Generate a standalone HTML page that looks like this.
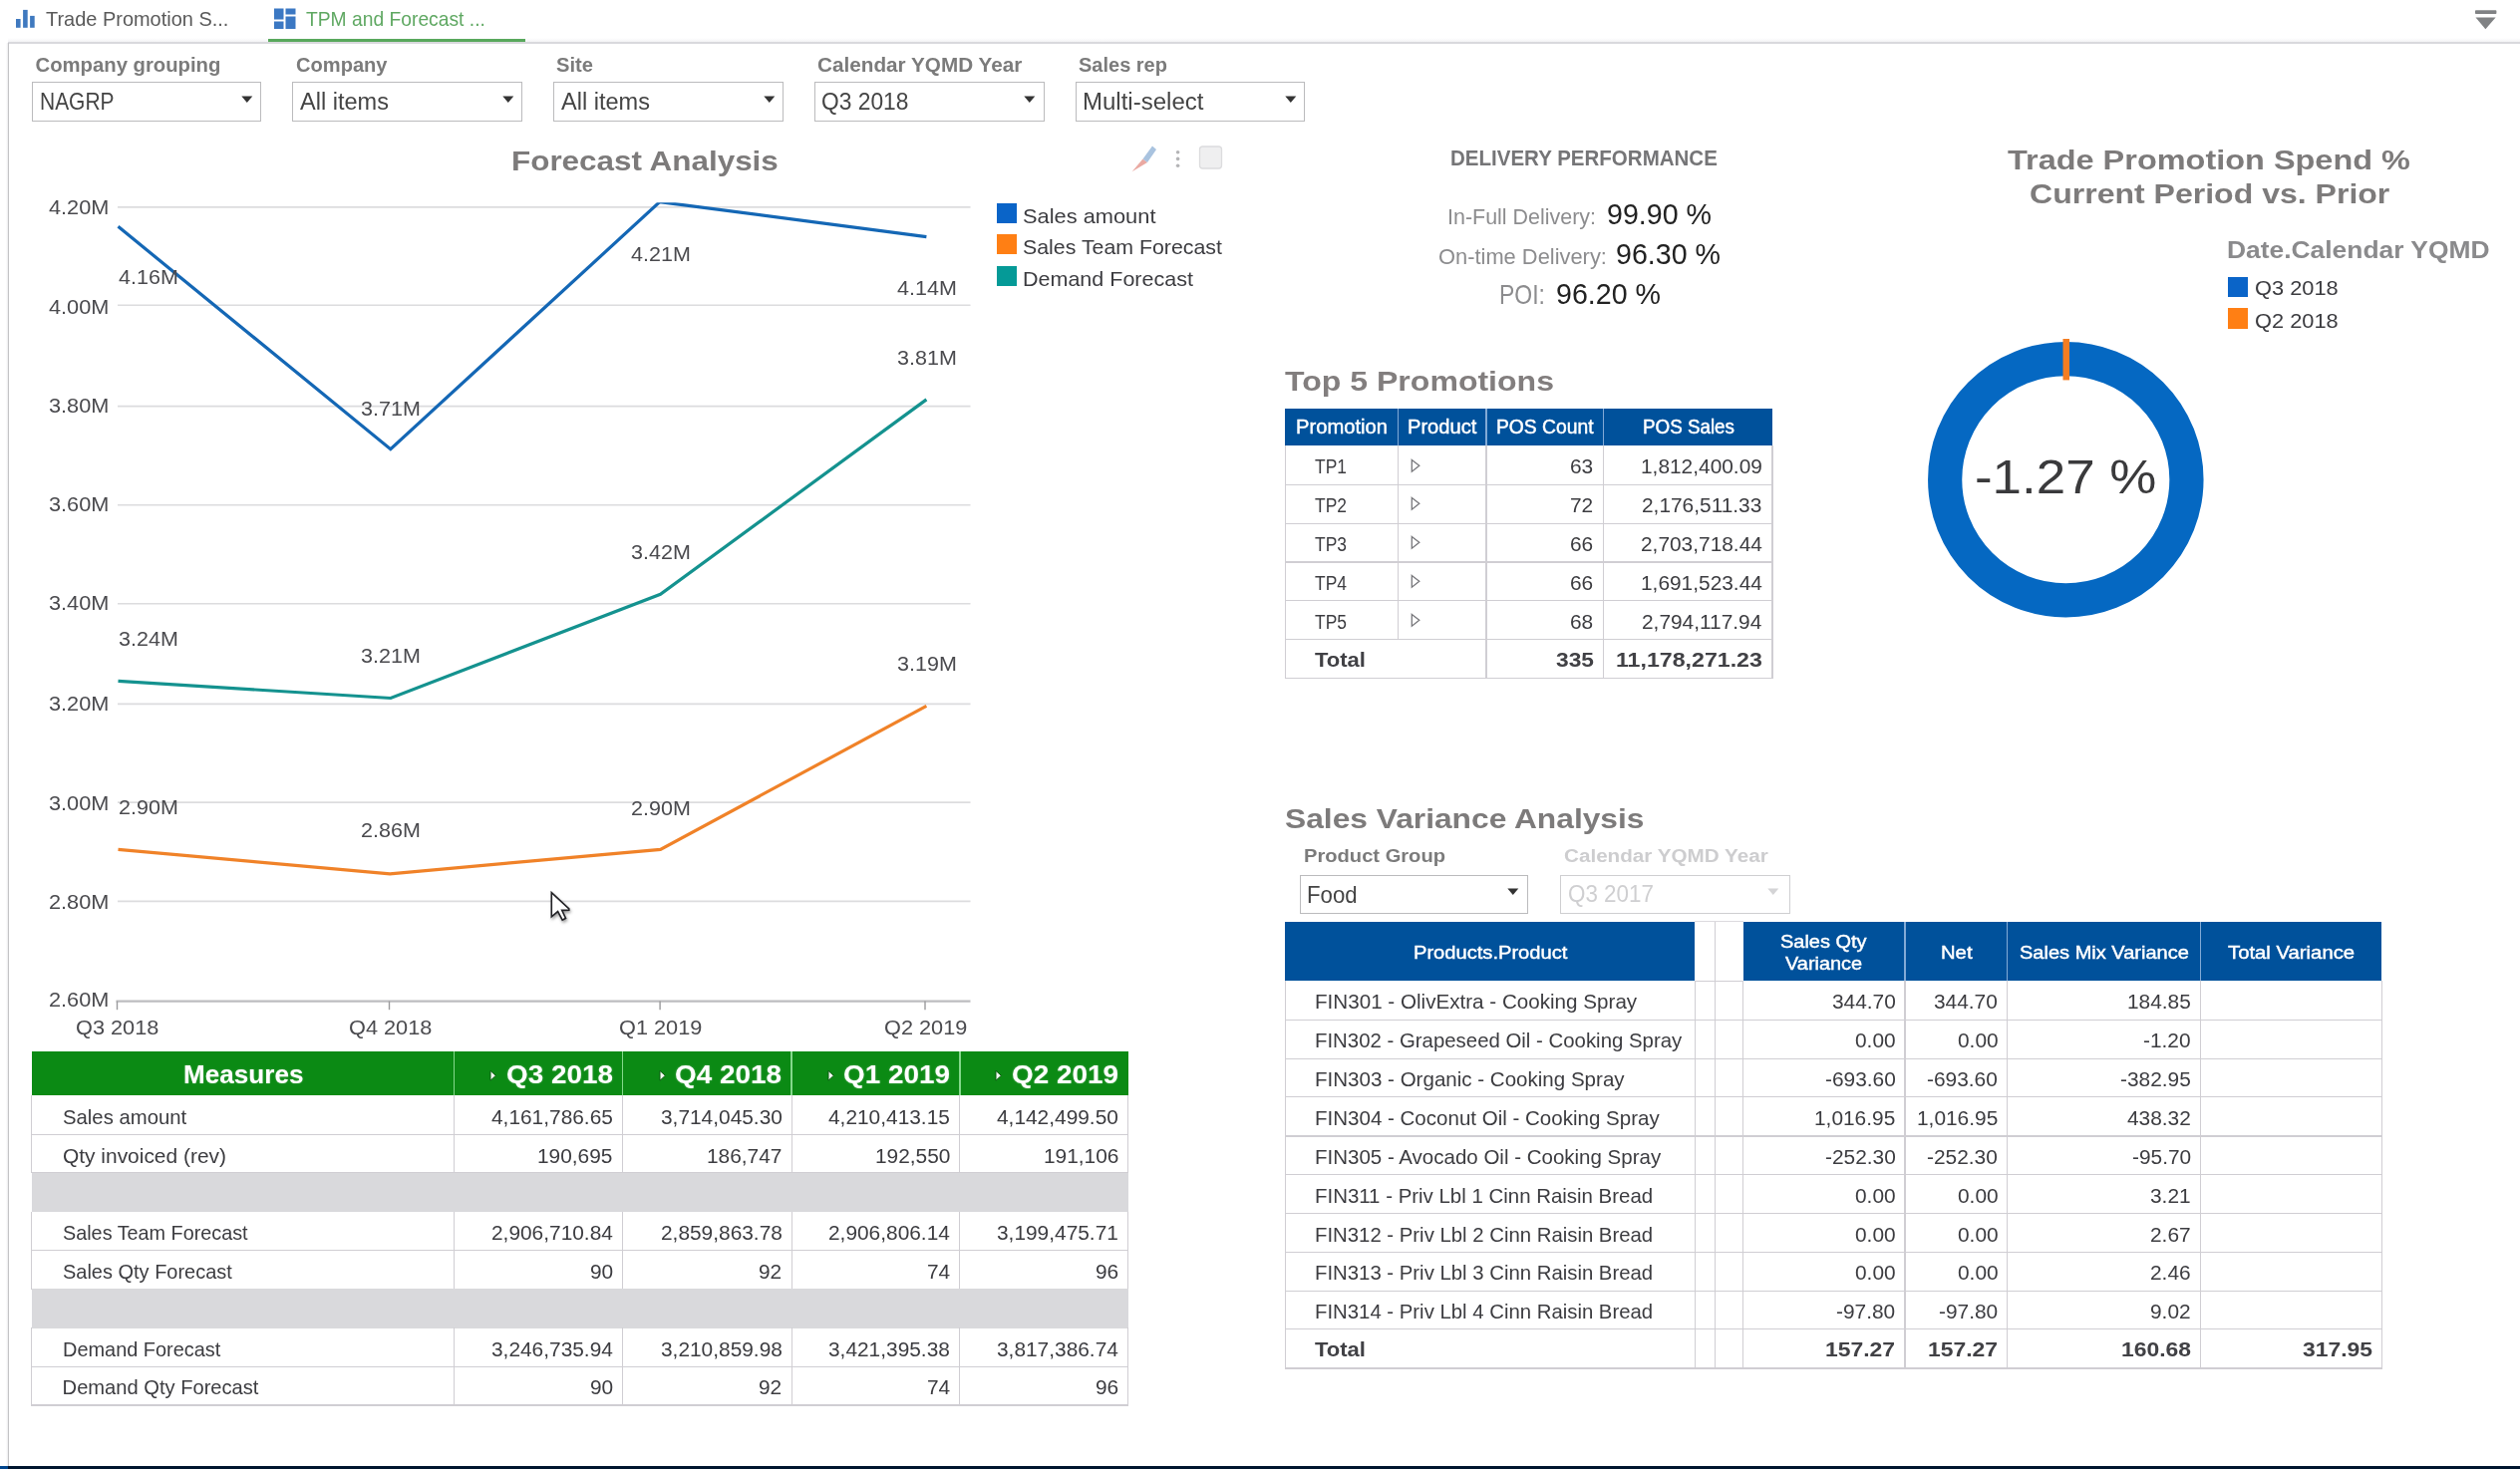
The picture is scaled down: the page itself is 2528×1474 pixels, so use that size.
<!DOCTYPE html>
<html lang="en"><head><meta charset="utf-8"><title>TPM and Forecast</title><style>
html,body{margin:0;padding:0;background:#fff;}
body{width:2528px;height:1474px;position:relative;overflow:hidden;font-family:"Liberation Sans",sans-serif;filter:blur(0.5px);}
.t{position:absolute;white-space:nowrap;line-height:1;transform-origin:0 0;}
.b{position:absolute;display:block;}
</style></head>
<body>
<div id="tabbar">
<div class="b" style="left:7.60px;top:41.60px;width:2521.00px;height:2.10px;background:#d9d9dd"></div>
<div class="b" style="left:7.60px;top:38.40px;width:2521.00px;height:3.20px;background:linear-gradient(#fff,#f3f3f5)"></div>
<svg class="b" style="left:14.5px;top:8px" width="24" height="24" viewBox="0 0 24 24"><g fill="#3f79bf"><rect x="1" y="11" width="4.6" height="8.8"/><rect x="8.1" y="1.9" width="4.6" height="17.9"/><rect x="15.1" y="7.9" width="4.6" height="11.9"/></g></svg>
<span class="t" style="left:45.50px;top:7.64px;font-size:21.01px;color:#5a5a5a;transform:scaleX(0.9502);">Trade Promotion S...</span>
<svg class="b" style="left:274px;top:8px" width="24" height="22" viewBox="0 0 24 22"><g fill="#3b78c3"><rect x="1" y="0.5" width="9.5" height="11"/><rect x="12.5" y="0.5" width="10" height="6"/><rect x="1" y="13.5" width="9.5" height="7.5"/><rect x="12.5" y="8.5" width="10" height="12.5"/></g></svg>
<span class="t" style="left:307.00px;top:7.64px;font-size:21.01px;color:#5fa862;transform:scaleX(0.9173);">TPM and Forecast ...</span>
<div class="b" style="left:269.00px;top:39.00px;width:257.50px;height:3.20px;background:#58a85c"></div>
<svg class="b" style="left:2480px;top:8px" width="28" height="24" viewBox="0 0 28 24"><g fill="#808284"><rect x="3" y="2.2" width="21.4" height="3.8" rx="0.8"/><path d="M3.5 9.5 L23.6 9.5 L13.4 21.2 Z"/></g></svg>
</div>
<div class="b" style="left:7.60px;top:43.00px;width:1.40px;height:1428.00px;background:#c4c4c6"></div>
<div class="b" style="left:5.50px;top:43.00px;width:2.10px;height:1428.00px;background:linear-gradient(90deg,#fff,#ececee)"></div>
<div id="filters">
<span class="t" style="left:35.50px;top:54.95px;font-size:20.29px;color:#7b7b7b;font-weight:bold;">Company grouping</span>
<div class="b" style="left:31.50px;top:81.80px;width:230.50px;height:40.40px;border:1.3px solid #bbbbbd;box-sizing:border-box;background:#fff"></div>
<span class="t" style="left:39.50px;top:90.13px;font-size:24.20px;color:#444;transform:scaleX(0.8659);">NAGRP</span>
<svg class="b" style="left:241.80px;top:95.6px" width="12" height="8" viewBox="0 0 12 8"><path d="M0.3 0.5 L11.3 0.5 L5.8 7 Z" fill="#333"/></svg>
<span class="t" style="left:297.30px;top:54.95px;font-size:20.29px;color:#7b7b7b;font-weight:bold;transform:scaleX(0.9906);">Company</span>
<div class="b" style="left:293.35px;top:81.80px;width:230.50px;height:40.40px;border:1.3px solid #bbbbbd;box-sizing:border-box;background:#fff"></div>
<span class="t" style="left:301.10px;top:90.13px;font-size:24.20px;color:#444;transform:scaleX(0.9735);">All items</span>
<svg class="b" style="left:503.65px;top:95.6px" width="12" height="8" viewBox="0 0 12 8"><path d="M0.3 0.5 L11.3 0.5 L5.8 7 Z" fill="#333"/></svg>
<span class="t" style="left:558.40px;top:54.95px;font-size:20.29px;color:#7b7b7b;font-weight:bold;transform:scaleX(0.9938);">Site</span>
<div class="b" style="left:555.20px;top:81.80px;width:230.50px;height:40.40px;border:1.3px solid #bbbbbd;box-sizing:border-box;background:#fff"></div>
<span class="t" style="left:562.60px;top:90.13px;font-size:24.20px;color:#444;transform:scaleX(0.9735);">All items</span>
<svg class="b" style="left:765.50px;top:95.6px" width="12" height="8" viewBox="0 0 12 8"><path d="M0.3 0.5 L11.3 0.5 L5.8 7 Z" fill="#333"/></svg>
<span class="t" style="left:820.30px;top:54.95px;font-size:20.29px;color:#7b7b7b;font-weight:bold;transform:scaleX(1.0213);">Calendar YQMD Year</span>
<div class="b" style="left:817.05px;top:81.80px;width:230.50px;height:40.40px;border:1.3px solid #bbbbbd;box-sizing:border-box;background:#fff"></div>
<span class="t" style="left:824.00px;top:90.13px;font-size:24.20px;color:#444;transform:scaleX(0.9421);">Q3 2018</span>
<svg class="b" style="left:1027.35px;top:95.6px" width="12" height="8" viewBox="0 0 12 8"><path d="M0.3 0.5 L11.3 0.5 L5.8 7 Z" fill="#333"/></svg>
<span class="t" style="left:1082.20px;top:54.95px;font-size:20.29px;color:#7b7b7b;font-weight:bold;transform:scaleX(0.9863);">Sales rep</span>
<div class="b" style="left:1078.90px;top:81.80px;width:230.50px;height:40.40px;border:1.3px solid #bbbbbd;box-sizing:border-box;background:#fff"></div>
<span class="t" style="left:1085.90px;top:90.13px;font-size:24.20px;color:#444;transform:scaleX(0.9926);">Multi-select</span>
<svg class="b" style="left:1289.20px;top:95.6px" width="12" height="8" viewBox="0 0 12 8"><path d="M0.3 0.5 L11.3 0.5 L5.8 7 Z" fill="#333"/></svg>
</div>
<div id="forecast-chart">
<span class="t" style="left:512.70px;top:147.52px;font-size:27.39px;color:#7d7b7b;font-weight:bold;transform:scaleX(1.1480);">Forecast Analysis</span>
<svg class="b" style="left:1130px;top:142px" width="100" height="34" viewBox="0 0 100 34"><path d="M5.6 30.3 L16.5 17.5 L21 21 Z" fill="#eaa9a2"/><path d="M16.5 17.5 L26 4.5 L30 8 L21 21 Z" fill="#a9c3df"/><circle cx="51.6" cy="10.7" r="1.8" fill="#b4b4b6"/><circle cx="51.6" cy="17.4" r="1.8" fill="#b4b4b6"/><circle cx="51.6" cy="24.2" r="1.8" fill="#b4b4b6"/><rect x="73.5" y="5" width="22" height="22" rx="3" fill="#efeff0" stroke="#dcdcde" stroke-width="1.3"/></svg>
<svg class="b" style="left:0;top:190px" width="1000" height="840" viewBox="0 190 1000 840"><line x1="118" x2="973.5" y1="207.9" y2="207.9" stroke="#dcdcde" stroke-width="1.6"/><line x1="118" x2="973.5" y1="306.3" y2="306.3" stroke="#dcdcde" stroke-width="1.6"/><line x1="118" x2="973.5" y1="407.6" y2="407.6" stroke="#dcdcde" stroke-width="1.6"/><line x1="118" x2="973.5" y1="506.8" y2="506.8" stroke="#dcdcde" stroke-width="1.6"/><line x1="118" x2="973.5" y1="605.7" y2="605.7" stroke="#dcdcde" stroke-width="1.6"/><line x1="118" x2="973.5" y1="706.4" y2="706.4" stroke="#dcdcde" stroke-width="1.6"/><line x1="118" x2="973.5" y1="805.1" y2="805.1" stroke="#dcdcde" stroke-width="1.6"/><line x1="118" x2="973.5" y1="904.4" y2="904.4" stroke="#dcdcde" stroke-width="1.6"/><line x1="116.5" x2="973.5" y1="1004.6" y2="1004.6" stroke="#bdbdbf" stroke-width="2.2"/><line x1="117.5" x2="117.5" y1="1004.6" y2="1013.2" stroke="#9a9a9c" stroke-width="1.4"/><line x1="390.5" x2="390.5" y1="1004.6" y2="1013.2" stroke="#9a9a9c" stroke-width="1.4"/><line x1="662.1" x2="662.1" y1="1004.6" y2="1013.2" stroke="#9a9a9c" stroke-width="1.4"/><line x1="928" x2="928" y1="1004.6" y2="1013.2" stroke="#9a9a9c" stroke-width="1.4"/><clipPath id="cp"><rect x="110" y="203.3" width="870" height="810"/></clipPath><polyline points="118.5,227.3 391.8,450.7 661.8,202.6 929.4,237.6" fill="none" stroke="#1467b5" stroke-width="3.2" stroke-linejoin="miter" clip-path="url(#cp)"/><polyline points="118.5,683.4 391.9,700.5 662.5,596.3 929.4,400.9" fill="none" stroke="#14928f" stroke-width="3.2" stroke-linejoin="miter" clip-path="url(#cp)"/><polyline points="118.5,852.4 391.2,876.8 662.5,852.4 929.4,708.4" fill="none" stroke="#f08228" stroke-width="3.2" stroke-linejoin="miter" clip-path="url(#cp)"/></svg>
<span class="t" style="left:48.76px;top:199.05px;font-size:19.71px;color:#4a4a4e;transform:scaleX(1.1030);">4.20M</span>
<span class="t" style="left:48.76px;top:298.65px;font-size:19.71px;color:#4a4a4e;transform:scaleX(1.1030);">4.00M</span>
<span class="t" style="left:48.76px;top:398.45px;font-size:19.71px;color:#4a4a4e;transform:scaleX(1.1030);">3.80M</span>
<span class="t" style="left:48.76px;top:497.15px;font-size:19.71px;color:#4a4a4e;transform:scaleX(1.1030);">3.60M</span>
<span class="t" style="left:48.76px;top:596.45px;font-size:19.71px;color:#4a4a4e;transform:scaleX(1.1030);">3.40M</span>
<span class="t" style="left:48.76px;top:697.45px;font-size:19.71px;color:#4a4a4e;transform:scaleX(1.1030);">3.20M</span>
<span class="t" style="left:48.76px;top:796.95px;font-size:19.71px;color:#4a4a4e;transform:scaleX(1.1030);">3.00M</span>
<span class="t" style="left:48.76px;top:896.15px;font-size:19.71px;color:#4a4a4e;transform:scaleX(1.1030);">2.80M</span>
<span class="t" style="left:48.76px;top:994.25px;font-size:19.71px;color:#4a4a4e;transform:scaleX(1.1030);">2.60M</span>
<span class="t" style="left:76.29px;top:1021.95px;font-size:19.71px;color:#4a4a4e;transform:scaleX(1.1030);">Q3 2018</span>
<span class="t" style="left:349.59px;top:1021.95px;font-size:19.71px;color:#4a4a4e;transform:scaleX(1.1030);">Q4 2018</span>
<span class="t" style="left:621.29px;top:1021.95px;font-size:19.71px;color:#4a4a4e;transform:scaleX(1.1030);">Q1 2019</span>
<span class="t" style="left:887.09px;top:1021.95px;font-size:19.71px;color:#4a4a4e;transform:scaleX(1.1030);">Q2 2019</span>
<span class="t" style="left:118.70px;top:269.45px;font-size:19.71px;color:#4a4a4e;transform:scaleX(1.0930);">4.16M</span>
<span class="t" style="left:361.55px;top:401.45px;font-size:19.71px;color:#4a4a4e;transform:scaleX(1.0930);">3.71M</span>
<span class="t" style="left:633.05px;top:246.25px;font-size:19.71px;color:#4a4a4e;transform:scaleX(1.0930);">4.21M</span>
<span class="t" style="left:899.65px;top:280.35px;font-size:19.71px;color:#4a4a4e;transform:scaleX(1.0930);">4.14M</span>
<span class="t" style="left:118.70px;top:631.95px;font-size:19.71px;color:#4a4a4e;transform:scaleX(1.0930);">3.24M</span>
<span class="t" style="left:361.55px;top:649.45px;font-size:19.71px;color:#4a4a4e;transform:scaleX(1.0930);">3.21M</span>
<span class="t" style="left:633.05px;top:544.95px;font-size:19.71px;color:#4a4a4e;transform:scaleX(1.0930);">3.42M</span>
<span class="t" style="left:899.65px;top:349.85px;font-size:19.71px;color:#4a4a4e;transform:scaleX(1.0930);">3.81M</span>
<span class="t" style="left:118.70px;top:801.45px;font-size:19.71px;color:#4a4a4e;transform:scaleX(1.0930);">2.90M</span>
<span class="t" style="left:361.55px;top:824.25px;font-size:19.71px;color:#4a4a4e;transform:scaleX(1.0930);">2.86M</span>
<span class="t" style="left:633.05px;top:801.65px;font-size:19.71px;color:#4a4a4e;transform:scaleX(1.0930);">2.90M</span>
<span class="t" style="left:899.65px;top:657.15px;font-size:19.71px;color:#4a4a4e;transform:scaleX(1.0930);">3.19M</span>
<div class="b" style="left:999.60px;top:203.50px;width:20.20px;height:20.20px;background:#0a64c8"></div>
<span class="t" style="left:1026.00px;top:206.50px;font-size:20.29px;color:#3c3c40;transform:scaleX(1.0760);">Sales amount</span>
<div class="b" style="left:999.60px;top:235.30px;width:20.20px;height:20.20px;background:#ff7f14"></div>
<span class="t" style="left:1026.00px;top:238.10px;font-size:20.29px;color:#3c3c40;transform:scaleX(1.0514);">Sales Team Forecast</span>
<div class="b" style="left:999.60px;top:267.10px;width:20.20px;height:20.20px;background:#059a97"></div>
<span class="t" style="left:1026.00px;top:269.70px;font-size:20.29px;color:#3c3c40;transform:scaleX(1.0604);">Demand Forecast</span>
<svg class="b" style="left:540px;top:885px;filter:drop-shadow(1.6px 2px 1.6px rgba(0,0,0,.38))" width="50" height="50" viewBox="540 885 50 50"><path d="M553.3 895.6 L553.3 919.8 L559.6 914.6 L564.2 923.1 L567.5 921.3 L563.7 913.4 L570.8 913.3 L570.8 911.9 Z" fill="#fff" stroke="#222226" stroke-width="1.6" stroke-linejoin="miter"/></svg>
</div>
<div id="measures-table">
<div class="b" style="left:31.80px;top:1055.30px;width:1099.80px;height:43.80px;background:#0b8a14"></div>
<div class="b" style="left:454.70px;top:1055.30px;width:1.60px;height:43.80px;background:#84d88b"></div>
<div class="b" style="left:623.60px;top:1055.30px;width:1.60px;height:43.80px;background:#84d88b"></div>
<div class="b" style="left:793.30px;top:1055.30px;width:1.60px;height:43.80px;background:#84d88b"></div>
<div class="b" style="left:962.00px;top:1055.30px;width:1.60px;height:43.80px;background:#84d88b"></div>
<span class="t" style="left:184.20px;top:1065.61px;font-size:24.93px;color:#fff;font-weight:bold;transform:scaleX(1.0475);text-shadow:0 0 2px rgba(255,255,255,.35);">Measures</span>
<span class="t" style="left:507.76px;top:1065.61px;font-size:24.93px;color:#fff;font-weight:bold;transform:scaleX(1.1190);text-shadow:0 0 2px rgba(255,255,255,.35);">Q3 2018</span>
<svg class="b" style="left:491.2px;top:1072.5px" width="8" height="13" viewBox="0 0 8 13"><path d="M1 1.4 L6.4 6.3 L1 11.2 Z" fill="#f2faf2" stroke="#0a5a10" stroke-width="1"/></svg>
<span class="t" style="left:677.46px;top:1065.61px;font-size:24.93px;color:#fff;font-weight:bold;transform:scaleX(1.1190);text-shadow:0 0 2px rgba(255,255,255,.35);">Q4 2018</span>
<svg class="b" style="left:660.9px;top:1072.5px" width="8" height="13" viewBox="0 0 8 13"><path d="M1 1.4 L6.4 6.3 L1 11.2 Z" fill="#f2faf2" stroke="#0a5a10" stroke-width="1"/></svg>
<span class="t" style="left:846.16px;top:1065.61px;font-size:24.93px;color:#fff;font-weight:bold;transform:scaleX(1.1190);text-shadow:0 0 2px rgba(255,255,255,.35);">Q1 2019</span>
<svg class="b" style="left:829.6px;top:1072.5px" width="8" height="13" viewBox="0 0 8 13"><path d="M1 1.4 L6.4 6.3 L1 11.2 Z" fill="#f2faf2" stroke="#0a5a10" stroke-width="1"/></svg>
<span class="t" style="left:1014.96px;top:1065.61px;font-size:24.93px;color:#fff;font-weight:bold;transform:scaleX(1.1190);text-shadow:0 0 2px rgba(255,255,255,.35);">Q2 2019</span>
<svg class="b" style="left:998.4px;top:1072.5px" width="8" height="13" viewBox="0 0 8 13"><path d="M1 1.4 L6.4 6.3 L1 11.2 Z" fill="#f2faf2" stroke="#0a5a10" stroke-width="1"/></svg>
<span class="t" style="left:62.60px;top:1110.78px;font-size:20.14px;color:#3c3c40;transform:scaleX(1.0090);">Sales amount</span>
<span class="t" style="left:492.90px;top:1110.78px;font-size:20.14px;color:#3c3c40;transform:scaleX(1.0370);">4,161,786.65</span>
<span class="t" style="left:662.60px;top:1110.78px;font-size:20.14px;color:#3c3c40;transform:scaleX(1.0370);">3,714,045.30</span>
<span class="t" style="left:831.30px;top:1110.78px;font-size:20.14px;color:#3c3c40;transform:scaleX(1.0370);">4,210,413.15</span>
<span class="t" style="left:1000.10px;top:1110.78px;font-size:20.14px;color:#3c3c40;transform:scaleX(1.0370);">4,142,499.50</span>
<div class="b" style="left:31.23px;top:1138.02px;width:1100.95px;height:1.15px;background:#d0ced3"></div>
<div class="b" style="left:31.23px;top:1098.60px;width:1.15px;height:40.60px;background:#d0ced3"></div>
<div class="b" style="left:454.93px;top:1098.60px;width:1.15px;height:40.60px;background:#d0ced3"></div>
<div class="b" style="left:623.82px;top:1098.60px;width:1.15px;height:40.60px;background:#d0ced3"></div>
<div class="b" style="left:793.52px;top:1098.60px;width:1.15px;height:40.60px;background:#d0ced3"></div>
<div class="b" style="left:962.22px;top:1098.60px;width:1.15px;height:40.60px;background:#d0ced3"></div>
<div class="b" style="left:1131.02px;top:1098.60px;width:1.15px;height:40.60px;background:#d0ced3"></div>
<span class="t" style="left:62.60px;top:1149.58px;font-size:20.14px;color:#3c3c40;transform:scaleX(1.0397);">Qty invoiced (rev)</span>
<span class="t" style="left:539.38px;top:1149.58px;font-size:20.14px;color:#3c3c40;transform:scaleX(1.0370);">190,695</span>
<span class="t" style="left:709.08px;top:1149.58px;font-size:20.14px;color:#3c3c40;transform:scaleX(1.0370);">186,747</span>
<span class="t" style="left:877.78px;top:1149.58px;font-size:20.14px;color:#3c3c40;transform:scaleX(1.0370);">192,550</span>
<span class="t" style="left:1046.58px;top:1149.58px;font-size:20.14px;color:#3c3c40;transform:scaleX(1.0370);">191,106</span>
<div class="b" style="left:31.23px;top:1176.02px;width:1100.95px;height:1.15px;background:#d0ced3"></div>
<div class="b" style="left:31.23px;top:1138.00px;width:1.15px;height:39.20px;background:#d0ced3"></div>
<div class="b" style="left:454.93px;top:1138.00px;width:1.15px;height:39.20px;background:#d0ced3"></div>
<div class="b" style="left:623.82px;top:1138.00px;width:1.15px;height:39.20px;background:#d0ced3"></div>
<div class="b" style="left:793.52px;top:1138.00px;width:1.15px;height:39.20px;background:#d0ced3"></div>
<div class="b" style="left:962.22px;top:1138.00px;width:1.15px;height:39.20px;background:#d0ced3"></div>
<div class="b" style="left:1131.02px;top:1138.00px;width:1.15px;height:39.20px;background:#d0ced3"></div>
<div class="b" style="left:31.80px;top:1176.60px;width:1099.80px;height:39.90px;background:#d9d9dc"></div>
<span class="t" style="left:62.60px;top:1227.18px;font-size:20.14px;color:#3c3c40;transform:scaleX(0.9838);">Sales Team Forecast</span>
<span class="t" style="left:492.90px;top:1227.18px;font-size:20.14px;color:#3c3c40;transform:scaleX(1.0370);">2,906,710.84</span>
<span class="t" style="left:662.60px;top:1227.18px;font-size:20.14px;color:#3c3c40;transform:scaleX(1.0370);">2,859,863.78</span>
<span class="t" style="left:831.30px;top:1227.18px;font-size:20.14px;color:#3c3c40;transform:scaleX(1.0370);">2,906,806.14</span>
<span class="t" style="left:1000.10px;top:1227.18px;font-size:20.14px;color:#3c3c40;transform:scaleX(1.0370);">3,199,475.71</span>
<div class="b" style="left:31.23px;top:1254.33px;width:1100.95px;height:1.15px;background:#d0ced3"></div>
<div class="b" style="left:31.23px;top:1215.90px;width:1.15px;height:39.60px;background:#d0ced3"></div>
<div class="b" style="left:454.93px;top:1215.90px;width:1.15px;height:39.60px;background:#d0ced3"></div>
<div class="b" style="left:623.82px;top:1215.90px;width:1.15px;height:39.60px;background:#d0ced3"></div>
<div class="b" style="left:793.52px;top:1215.90px;width:1.15px;height:39.60px;background:#d0ced3"></div>
<div class="b" style="left:962.22px;top:1215.90px;width:1.15px;height:39.60px;background:#d0ced3"></div>
<div class="b" style="left:1131.02px;top:1215.90px;width:1.15px;height:39.60px;background:#d0ced3"></div>
<span class="t" style="left:62.60px;top:1265.68px;font-size:20.14px;color:#3c3c40;transform:scaleX(0.9925);">Sales Qty Forecast</span>
<span class="t" style="left:591.66px;top:1265.68px;font-size:20.14px;color:#3c3c40;transform:scaleX(1.0370);">90</span>
<span class="t" style="left:761.36px;top:1265.68px;font-size:20.14px;color:#3c3c40;transform:scaleX(1.0370);">92</span>
<span class="t" style="left:930.06px;top:1265.68px;font-size:20.14px;color:#3c3c40;transform:scaleX(1.0370);">74</span>
<span class="t" style="left:1098.86px;top:1265.68px;font-size:20.14px;color:#3c3c40;transform:scaleX(1.0370);">96</span>
<div class="b" style="left:31.23px;top:1292.52px;width:1100.95px;height:1.15px;background:#d0ced3"></div>
<div class="b" style="left:31.23px;top:1254.30px;width:1.15px;height:39.40px;background:#d0ced3"></div>
<div class="b" style="left:454.93px;top:1254.30px;width:1.15px;height:39.40px;background:#d0ced3"></div>
<div class="b" style="left:623.82px;top:1254.30px;width:1.15px;height:39.40px;background:#d0ced3"></div>
<div class="b" style="left:793.52px;top:1254.30px;width:1.15px;height:39.40px;background:#d0ced3"></div>
<div class="b" style="left:962.22px;top:1254.30px;width:1.15px;height:39.40px;background:#d0ced3"></div>
<div class="b" style="left:1131.02px;top:1254.30px;width:1.15px;height:39.40px;background:#d0ced3"></div>
<div class="b" style="left:31.80px;top:1293.10px;width:1099.80px;height:39.90px;background:#d9d9dc"></div>
<span class="t" style="left:62.60px;top:1343.58px;font-size:20.14px;color:#3c3c40;transform:scaleX(0.9900);">Demand Forecast</span>
<span class="t" style="left:492.90px;top:1343.58px;font-size:20.14px;color:#3c3c40;transform:scaleX(1.0370);">3,246,735.94</span>
<span class="t" style="left:662.60px;top:1343.58px;font-size:20.14px;color:#3c3c40;transform:scaleX(1.0370);">3,210,859.98</span>
<span class="t" style="left:831.30px;top:1343.58px;font-size:20.14px;color:#3c3c40;transform:scaleX(1.0370);">3,421,395.38</span>
<span class="t" style="left:1000.10px;top:1343.58px;font-size:20.14px;color:#3c3c40;transform:scaleX(1.0370);">3,817,386.74</span>
<div class="b" style="left:31.23px;top:1370.52px;width:1100.95px;height:1.15px;background:#d0ced3"></div>
<div class="b" style="left:31.23px;top:1332.40px;width:1.15px;height:39.30px;background:#d0ced3"></div>
<div class="b" style="left:454.93px;top:1332.40px;width:1.15px;height:39.30px;background:#d0ced3"></div>
<div class="b" style="left:623.82px;top:1332.40px;width:1.15px;height:39.30px;background:#d0ced3"></div>
<div class="b" style="left:793.52px;top:1332.40px;width:1.15px;height:39.30px;background:#d0ced3"></div>
<div class="b" style="left:962.22px;top:1332.40px;width:1.15px;height:39.30px;background:#d0ced3"></div>
<div class="b" style="left:1131.02px;top:1332.40px;width:1.15px;height:39.30px;background:#d0ced3"></div>
<span class="t" style="left:62.60px;top:1382.18px;font-size:20.14px;color:#3c3c40;">Demand Qty Forecast</span>
<span class="t" style="left:591.66px;top:1382.18px;font-size:20.14px;color:#3c3c40;transform:scaleX(1.0370);">90</span>
<span class="t" style="left:761.36px;top:1382.18px;font-size:20.14px;color:#3c3c40;transform:scaleX(1.0370);">92</span>
<span class="t" style="left:930.06px;top:1382.18px;font-size:20.14px;color:#3c3c40;transform:scaleX(1.0370);">74</span>
<span class="t" style="left:1098.86px;top:1382.18px;font-size:20.14px;color:#3c3c40;transform:scaleX(1.0370);">96</span>
<div class="b" style="left:31.23px;top:1409.42px;width:1100.95px;height:1.15px;background:#d0ced3"></div>
<div class="b" style="left:31.23px;top:1370.50px;width:1.15px;height:40.10px;background:#d0ced3"></div>
<div class="b" style="left:454.93px;top:1370.50px;width:1.15px;height:40.10px;background:#d0ced3"></div>
<div class="b" style="left:623.82px;top:1370.50px;width:1.15px;height:40.10px;background:#d0ced3"></div>
<div class="b" style="left:793.52px;top:1370.50px;width:1.15px;height:40.10px;background:#d0ced3"></div>
<div class="b" style="left:962.22px;top:1370.50px;width:1.15px;height:40.10px;background:#d0ced3"></div>
<div class="b" style="left:1131.02px;top:1370.50px;width:1.15px;height:40.10px;background:#d0ced3"></div>
</div>
<div id="delivery">
<span class="t" style="left:1454.80px;top:148.97px;font-size:21.45px;color:#757577;font-weight:bold;transform:scaleX(0.9569);">DELIVERY PERFORMANCE</span>
<span class="t" style="left:1452.40px;top:205.74px;font-size:22.90px;color:#8c8c8e;transform:scaleX(0.9369);">In-Full Delivery:</span>
<span class="t" style="left:1611.90px;top:199.82px;font-size:29.86px;color:#222;transform:scaleX(0.9583);">99.90 %</span>
<span class="t" style="left:1442.50px;top:245.74px;font-size:22.90px;color:#8c8c8e;transform:scaleX(0.9554);">On-time Delivery:</span>
<span class="t" style="left:1621.40px;top:239.82px;font-size:29.86px;color:#222;transform:scaleX(0.9583);">96.30 %</span>
<span class="t" style="left:1504.00px;top:281.99px;font-size:27.54px;color:#8c8c8e;transform:scaleX(0.8353);">POI:</span>
<span class="t" style="left:1560.60px;top:280.02px;font-size:29.86px;color:#222;transform:scaleX(0.9583);">96.20 %</span>
</div>
<div id="top5">
<span class="t" style="left:1289.00px;top:368.13px;font-size:28.55px;color:#827e7e;font-weight:bold;transform:scaleX(1.1225);">Top 5 Promotions</span>
<div class="b" style="left:1289.20px;top:409.80px;width:488.80px;height:37.70px;background:#00519b"></div>
<div class="b" style="left:1401.60px;top:409.80px;width:1.60px;height:37.70px;background:#82aad6"></div>
<div class="b" style="left:1490.20px;top:409.80px;width:1.60px;height:37.70px;background:#82aad6"></div>
<div class="b" style="left:1607.80px;top:409.80px;width:1.60px;height:37.70px;background:#82aad6"></div>
<span class="t" style="left:1299.60px;top:419.39px;font-size:19.42px;color:#fff;transform:scaleX(1.0395);-webkit-text-stroke:0.45px #fff;">Promotion</span>
<span class="t" style="left:1411.60px;top:419.39px;font-size:19.42px;color:#fff;transform:scaleX(1.0366);-webkit-text-stroke:0.45px #fff;">Product</span>
<span class="t" style="left:1501.00px;top:419.39px;font-size:19.42px;color:#fff;transform:scaleX(0.9937);-webkit-text-stroke:0.45px #fff;">POS Count</span>
<span class="t" style="left:1647.70px;top:419.39px;font-size:19.42px;color:#fff;transform:scaleX(0.9688);-webkit-text-stroke:0.45px #fff;">POS Sales</span>
<span class="t" style="left:1319.00px;top:458.38px;font-size:20.14px;color:#3c3c40;transform:scaleX(0.8657);">TP1</span>
<svg class="b" style="left:1414.5px;top:459.5px" width="11" height="15" viewBox="0 0 11 15"><path d="M1.3 1.4 L8.8 7.3 L1.3 13.2 Z" fill="none" stroke="#77777b" stroke-width="1.3"/></svg>
<span class="t" style="left:1575.36px;top:458.38px;font-size:20.14px;color:#3c3c40;transform:scaleX(1.0370);">63</span>
<span class="t" style="left:1645.60px;top:458.38px;font-size:20.14px;color:#3c3c40;transform:scaleX(1.0370);">1,812,400.09</span>
<div class="b" style="left:1288.62px;top:485.77px;width:489.95px;height:1.15px;background:#d0ced3"></div>
<div class="b" style="left:1288.62px;top:446.90px;width:1.15px;height:40.04px;background:#d0ced3"></div>
<div class="b" style="left:1401.83px;top:446.90px;width:1.15px;height:40.04px;background:#d0ced3"></div>
<div class="b" style="left:1490.42px;top:446.90px;width:1.15px;height:40.04px;background:#d0ced3"></div>
<div class="b" style="left:1608.02px;top:446.90px;width:1.15px;height:40.04px;background:#d0ced3"></div>
<div class="b" style="left:1777.42px;top:446.90px;width:1.15px;height:40.04px;background:#d0ced3"></div>
<span class="t" style="left:1319.00px;top:497.22px;font-size:20.14px;color:#3c3c40;transform:scaleX(0.8657);">TP2</span>
<svg class="b" style="left:1414.5px;top:498.3px" width="11" height="15" viewBox="0 0 11 15"><path d="M1.3 1.4 L8.8 7.3 L1.3 13.2 Z" fill="none" stroke="#77777b" stroke-width="1.3"/></svg>
<span class="t" style="left:1575.36px;top:497.22px;font-size:20.14px;color:#3c3c40;transform:scaleX(1.0370);">72</span>
<span class="t" style="left:1647.17px;top:497.22px;font-size:20.14px;color:#3c3c40;transform:scaleX(1.0370);">2,176,511.33</span>
<div class="b" style="left:1288.62px;top:524.61px;width:489.95px;height:1.15px;background:#d0ced3"></div>
<div class="b" style="left:1288.62px;top:485.74px;width:1.15px;height:40.04px;background:#d0ced3"></div>
<div class="b" style="left:1401.83px;top:485.74px;width:1.15px;height:40.04px;background:#d0ced3"></div>
<div class="b" style="left:1490.42px;top:485.74px;width:1.15px;height:40.04px;background:#d0ced3"></div>
<div class="b" style="left:1608.02px;top:485.74px;width:1.15px;height:40.04px;background:#d0ced3"></div>
<div class="b" style="left:1777.42px;top:485.74px;width:1.15px;height:40.04px;background:#d0ced3"></div>
<span class="t" style="left:1319.00px;top:536.06px;font-size:20.14px;color:#3c3c40;transform:scaleX(0.8657);">TP3</span>
<svg class="b" style="left:1414.5px;top:537.2px" width="11" height="15" viewBox="0 0 11 15"><path d="M1.3 1.4 L8.8 7.3 L1.3 13.2 Z" fill="none" stroke="#77777b" stroke-width="1.3"/></svg>
<span class="t" style="left:1575.36px;top:536.06px;font-size:20.14px;color:#3c3c40;transform:scaleX(1.0370);">66</span>
<span class="t" style="left:1645.60px;top:536.06px;font-size:20.14px;color:#3c3c40;transform:scaleX(1.0370);">2,703,718.44</span>
<div class="b" style="left:1288.62px;top:563.45px;width:489.95px;height:1.15px;background:#d0ced3"></div>
<div class="b" style="left:1288.62px;top:524.58px;width:1.15px;height:40.04px;background:#d0ced3"></div>
<div class="b" style="left:1401.83px;top:524.58px;width:1.15px;height:40.04px;background:#d0ced3"></div>
<div class="b" style="left:1490.42px;top:524.58px;width:1.15px;height:40.04px;background:#d0ced3"></div>
<div class="b" style="left:1608.02px;top:524.58px;width:1.15px;height:40.04px;background:#d0ced3"></div>
<div class="b" style="left:1777.42px;top:524.58px;width:1.15px;height:40.04px;background:#d0ced3"></div>
<span class="t" style="left:1319.00px;top:574.90px;font-size:20.14px;color:#3c3c40;transform:scaleX(0.8657);">TP4</span>
<svg class="b" style="left:1414.5px;top:576.0px" width="11" height="15" viewBox="0 0 11 15"><path d="M1.3 1.4 L8.8 7.3 L1.3 13.2 Z" fill="none" stroke="#77777b" stroke-width="1.3"/></svg>
<span class="t" style="left:1575.36px;top:574.90px;font-size:20.14px;color:#3c3c40;transform:scaleX(1.0370);">66</span>
<span class="t" style="left:1645.60px;top:574.90px;font-size:20.14px;color:#3c3c40;transform:scaleX(1.0370);">1,691,523.44</span>
<div class="b" style="left:1288.62px;top:602.28px;width:489.95px;height:1.15px;background:#d0ced3"></div>
<div class="b" style="left:1288.62px;top:563.42px;width:1.15px;height:40.04px;background:#d0ced3"></div>
<div class="b" style="left:1401.83px;top:563.42px;width:1.15px;height:40.04px;background:#d0ced3"></div>
<div class="b" style="left:1490.42px;top:563.42px;width:1.15px;height:40.04px;background:#d0ced3"></div>
<div class="b" style="left:1608.02px;top:563.42px;width:1.15px;height:40.04px;background:#d0ced3"></div>
<div class="b" style="left:1777.42px;top:563.42px;width:1.15px;height:40.04px;background:#d0ced3"></div>
<span class="t" style="left:1319.00px;top:613.74px;font-size:20.14px;color:#3c3c40;transform:scaleX(0.8657);">TP5</span>
<svg class="b" style="left:1414.5px;top:614.9px" width="11" height="15" viewBox="0 0 11 15"><path d="M1.3 1.4 L8.8 7.3 L1.3 13.2 Z" fill="none" stroke="#77777b" stroke-width="1.3"/></svg>
<span class="t" style="left:1575.36px;top:613.74px;font-size:20.14px;color:#3c3c40;transform:scaleX(1.0370);">68</span>
<span class="t" style="left:1647.17px;top:613.74px;font-size:20.14px;color:#3c3c40;transform:scaleX(1.0370);">2,794,117.94</span>
<div class="b" style="left:1288.62px;top:641.12px;width:489.95px;height:1.15px;background:#d0ced3"></div>
<div class="b" style="left:1288.62px;top:602.26px;width:1.15px;height:40.04px;background:#d0ced3"></div>
<div class="b" style="left:1401.83px;top:602.26px;width:1.15px;height:40.04px;background:#d0ced3"></div>
<div class="b" style="left:1490.42px;top:602.26px;width:1.15px;height:40.04px;background:#d0ced3"></div>
<div class="b" style="left:1608.02px;top:602.26px;width:1.15px;height:40.04px;background:#d0ced3"></div>
<div class="b" style="left:1777.42px;top:602.26px;width:1.15px;height:40.04px;background:#d0ced3"></div>
<span class="t" style="left:1319.00px;top:652.28px;font-size:20.14px;color:#414145;font-weight:bold;transform:scaleX(1.0936);">Total</span>
<span class="t" style="left:1560.60px;top:652.28px;font-size:20.14px;color:#414145;font-weight:bold;transform:scaleX(1.1312);">335</span>
<span class="t" style="left:1620.60px;top:652.28px;font-size:20.14px;color:#414145;font-weight:bold;transform:scaleX(1.1510);">11,178,271.23</span>
<div class="b" style="left:1288.62px;top:679.97px;width:489.95px;height:1.15px;background:#d0ced3"></div>
<div class="b" style="left:1288.62px;top:641.10px;width:1.15px;height:40.04px;background:#d0ced3"></div>
<div class="b" style="left:1490.42px;top:641.10px;width:1.15px;height:40.04px;background:#d0ced3"></div>
<div class="b" style="left:1608.02px;top:641.10px;width:1.15px;height:40.04px;background:#d0ced3"></div>
<div class="b" style="left:1777.42px;top:641.10px;width:1.15px;height:40.04px;background:#d0ced3"></div>
</div>
<div id="donut">
<span class="t" style="left:2014.00px;top:147.30px;font-size:28.12px;color:#7d7b7b;font-weight:bold;transform:scaleX(1.1546);">Trade Promotion Spend %</span>
<span class="t" style="left:2035.80px;top:181.10px;font-size:28.12px;color:#7d7b7b;font-weight:bold;transform:scaleX(1.1395);">Current Period vs. Prior</span>
<span class="t" style="left:2234.40px;top:238.66px;font-size:24.64px;color:#8a8a8c;font-weight:bold;transform:scaleX(1.0719);">Date.Calendar YQMD</span>
<div class="b" style="left:2235.20px;top:277.50px;width:20.00px;height:20.60px;background:#0a64c8"></div>
<div class="b" style="left:2235.20px;top:309.40px;width:20.00px;height:20.20px;background:#ff7f14"></div>
<span class="t" style="left:2261.90px;top:279.25px;font-size:20.29px;color:#3c3c40;transform:scaleX(1.0750);">Q3 2018</span>
<span class="t" style="left:2261.90px;top:311.65px;font-size:20.29px;color:#3c3c40;transform:scaleX(1.0750);">Q2 2018</span>
<svg class="b" style="left:1920px;top:330px" width="310" height="300" viewBox="1920 330 310 300"><circle cx="2072.3" cy="481.2" r="121.15" fill="none" stroke="#0568c2" stroke-width="34.2"/><rect x="2069.5" y="340" width="6.5" height="41.4" fill="#f47d22"/></svg>
<span class="t" style="left:1980.60px;top:453.79px;font-size:48.84px;color:#3a3a3c;transform:scaleX(1.0839);">-1.27 %</span>
</div>
<div id="variance">
<span class="t" style="left:1288.90px;top:807.82px;font-size:27.39px;color:#7d7b7b;font-weight:bold;transform:scaleX(1.1592);">Sales Variance Analysis</span>
<span class="t" style="left:1307.80px;top:850.36px;font-size:18.41px;color:#7b7b7b;font-weight:bold;transform:scaleX(1.0935);">Product Group</span>
<span class="t" style="left:1569.30px;top:850.36px;font-size:18.41px;color:#cdcdcf;font-weight:bold;transform:scaleX(1.1220);">Calendar YQMD Year</span>
<div class="b" style="left:1304.40px;top:878.20px;width:228.50px;height:38.50px;border:1.3px solid #bbbbbd;box-sizing:border-box;background:#fff"></div>
<div class="b" style="left:1565.10px;top:878.20px;width:230.50px;height:38.50px;border:1.3px solid #cfcfd1;box-sizing:border-box;background:#fff"></div>
<span class="t" style="left:1311.00px;top:886.89px;font-size:23.19px;color:#444;transform:scaleX(0.9571);">Food</span>
<span class="t" style="left:1572.50px;top:886.29px;font-size:23.19px;color:#cfcfd1;transform:scaleX(0.9664);">Q3 2017</span>
<svg class="b" style="left:1511.8px;top:890.6px" width="12" height="8" viewBox="0 0 12 8"><path d="M0.3 0.5 L11.3 0.5 L5.8 7 Z" fill="#333"/></svg>
<svg class="b" style="left:1773px;top:890.6px" width="12" height="8" viewBox="0 0 12 8"><path d="M0.3 0.5 L11.3 0.5 L5.8 7 Z" fill="#d4d4d6"/></svg>
<div class="b" style="left:1289.40px;top:925.00px;width:410.80px;height:59.40px;background:#00519b"></div>
<div class="b" style="left:1748.80px;top:925.00px;width:640.40px;height:59.40px;background:#00519b"></div>
<div class="b" style="left:1910.20px;top:925.00px;width:1.60px;height:59.40px;background:#82aad6"></div>
<div class="b" style="left:2012.90px;top:925.00px;width:1.60px;height:59.40px;background:#82aad6"></div>
<div class="b" style="left:2206.90px;top:925.00px;width:1.60px;height:59.40px;background:#82aad6"></div>
<div class="b" style="left:1719.92px;top:924.40px;width:1.15px;height:60.60px;background:#d0ced3"></div>
<div class="b" style="left:1699.55px;top:923.95px;width:49.90px;height:1.30px;background:#dcdade"></div>
<div class="b" style="left:1699.62px;top:983.82px;width:49.75px;height:1.15px;background:#d0ced3"></div>
<span class="t" style="left:1417.60px;top:945.82px;font-size:19.28px;color:#fff;transform:scaleX(1.0444);-webkit-text-stroke:0.45px #fff;">Products.Product</span>
<span class="t" style="left:1786.30px;top:935.02px;font-size:19.28px;color:#fff;transform:scaleX(1.0364);-webkit-text-stroke:0.45px #fff;">Sales Qty</span>
<span class="t" style="left:1791.40px;top:956.52px;font-size:19.28px;color:#fff;transform:scaleX(1.0342);-webkit-text-stroke:0.45px #fff;">Variance</span>
<span class="t" style="left:1947.05px;top:945.92px;font-size:19.28px;color:#fff;transform:scaleX(1.0509);-webkit-text-stroke:0.45px #fff;">Net</span>
<span class="t" style="left:2026.30px;top:945.92px;font-size:19.28px;color:#fff;transform:scaleX(1.0394);-webkit-text-stroke:0.45px #fff;">Sales Mix Variance</span>
<span class="t" style="left:2235.10px;top:945.92px;font-size:19.28px;color:#fff;transform:scaleX(1.0537);-webkit-text-stroke:0.45px #fff;">Total Variance</span>
<span class="t" style="left:1319.30px;top:995.28px;font-size:20.14px;color:#3c3c40;transform:scaleX(1.0246);">FIN301 - OlivExtra - Cooking Spray</span>
<span class="t" style="left:1837.73px;top:995.28px;font-size:20.14px;color:#3c3c40;transform:scaleX(1.0370);">344.70</span>
<span class="t" style="left:1940.33px;top:995.28px;font-size:20.14px;color:#3c3c40;transform:scaleX(1.0370);">344.70</span>
<span class="t" style="left:2134.13px;top:995.28px;font-size:20.14px;color:#3c3c40;transform:scaleX(1.0370);">184.85</span>
<div class="b" style="left:1288.83px;top:1022.62px;width:1100.95px;height:1.15px;background:#d0ced3"></div>
<div class="b" style="left:1288.83px;top:983.80px;width:1.15px;height:40.00px;background:#d0ced3"></div>
<div class="b" style="left:1699.62px;top:983.80px;width:1.15px;height:40.00px;background:#d0ced3"></div>
<div class="b" style="left:1719.92px;top:983.80px;width:1.15px;height:40.00px;background:#d0ced3"></div>
<div class="b" style="left:1748.22px;top:983.80px;width:1.15px;height:40.00px;background:#d0ced3"></div>
<div class="b" style="left:1910.42px;top:983.80px;width:1.15px;height:40.00px;background:#d0ced3"></div>
<div class="b" style="left:2013.12px;top:983.80px;width:1.15px;height:40.00px;background:#d0ced3"></div>
<div class="b" style="left:2207.12px;top:983.80px;width:1.15px;height:40.00px;background:#d0ced3"></div>
<div class="b" style="left:2388.62px;top:983.80px;width:1.15px;height:40.00px;background:#d0ced3"></div>
<span class="t" style="left:1319.30px;top:1034.08px;font-size:20.14px;color:#3c3c40;transform:scaleX(1.0129);">FIN302 - Grapeseed Oil - Cooking Spray</span>
<span class="t" style="left:1860.92px;top:1034.08px;font-size:20.14px;color:#3c3c40;transform:scaleX(1.0370);">0.00</span>
<span class="t" style="left:1963.52px;top:1034.08px;font-size:20.14px;color:#3c3c40;transform:scaleX(1.0370);">0.00</span>
<span class="t" style="left:2150.37px;top:1034.08px;font-size:20.14px;color:#3c3c40;transform:scaleX(1.0370);">-1.20</span>
<div class="b" style="left:1288.83px;top:1061.72px;width:1100.95px;height:1.15px;background:#d0ced3"></div>
<div class="b" style="left:1288.83px;top:1022.60px;width:1.15px;height:40.30px;background:#d0ced3"></div>
<div class="b" style="left:1699.62px;top:1022.60px;width:1.15px;height:40.30px;background:#d0ced3"></div>
<div class="b" style="left:1719.92px;top:1022.60px;width:1.15px;height:40.30px;background:#d0ced3"></div>
<div class="b" style="left:1748.22px;top:1022.60px;width:1.15px;height:40.30px;background:#d0ced3"></div>
<div class="b" style="left:1910.42px;top:1022.60px;width:1.15px;height:40.30px;background:#d0ced3"></div>
<div class="b" style="left:2013.12px;top:1022.60px;width:1.15px;height:40.30px;background:#d0ced3"></div>
<div class="b" style="left:2207.12px;top:1022.60px;width:1.15px;height:40.30px;background:#d0ced3"></div>
<div class="b" style="left:2388.62px;top:1022.60px;width:1.15px;height:40.30px;background:#d0ced3"></div>
<span class="t" style="left:1319.30px;top:1073.18px;font-size:20.14px;color:#3c3c40;transform:scaleX(1.0209);">FIN303 - Organic - Cooking Spray</span>
<span class="t" style="left:1830.73px;top:1073.18px;font-size:20.14px;color:#3c3c40;transform:scaleX(1.0370);">-693.60</span>
<span class="t" style="left:1933.33px;top:1073.18px;font-size:20.14px;color:#3c3c40;transform:scaleX(1.0370);">-693.60</span>
<span class="t" style="left:2127.13px;top:1073.18px;font-size:20.14px;color:#3c3c40;transform:scaleX(1.0370);">-382.95</span>
<div class="b" style="left:1288.83px;top:1100.33px;width:1100.95px;height:1.15px;background:#d0ced3"></div>
<div class="b" style="left:1288.83px;top:1061.70px;width:1.15px;height:39.80px;background:#d0ced3"></div>
<div class="b" style="left:1699.62px;top:1061.70px;width:1.15px;height:39.80px;background:#d0ced3"></div>
<div class="b" style="left:1719.92px;top:1061.70px;width:1.15px;height:39.80px;background:#d0ced3"></div>
<div class="b" style="left:1748.22px;top:1061.70px;width:1.15px;height:39.80px;background:#d0ced3"></div>
<div class="b" style="left:1910.42px;top:1061.70px;width:1.15px;height:39.80px;background:#d0ced3"></div>
<div class="b" style="left:2013.12px;top:1061.70px;width:1.15px;height:39.80px;background:#d0ced3"></div>
<div class="b" style="left:2207.12px;top:1061.70px;width:1.15px;height:39.80px;background:#d0ced3"></div>
<div class="b" style="left:2388.62px;top:1061.70px;width:1.15px;height:39.80px;background:#d0ced3"></div>
<span class="t" style="left:1319.30px;top:1111.78px;font-size:20.14px;color:#3c3c40;transform:scaleX(1.0199);">FIN304 - Coconut Oil - Cooking Spray</span>
<span class="t" style="left:1820.28px;top:1111.78px;font-size:20.14px;color:#3c3c40;transform:scaleX(1.0370);">1,016.95</span>
<span class="t" style="left:1922.88px;top:1111.78px;font-size:20.14px;color:#3c3c40;transform:scaleX(1.0370);">1,016.95</span>
<span class="t" style="left:2134.13px;top:1111.78px;font-size:20.14px;color:#3c3c40;transform:scaleX(1.0370);">438.32</span>
<div class="b" style="left:1288.83px;top:1139.42px;width:1100.95px;height:1.15px;background:#d0ced3"></div>
<div class="b" style="left:1288.83px;top:1100.30px;width:1.15px;height:40.30px;background:#d0ced3"></div>
<div class="b" style="left:1699.62px;top:1100.30px;width:1.15px;height:40.30px;background:#d0ced3"></div>
<div class="b" style="left:1719.92px;top:1100.30px;width:1.15px;height:40.30px;background:#d0ced3"></div>
<div class="b" style="left:1748.22px;top:1100.30px;width:1.15px;height:40.30px;background:#d0ced3"></div>
<div class="b" style="left:1910.42px;top:1100.30px;width:1.15px;height:40.30px;background:#d0ced3"></div>
<div class="b" style="left:2013.12px;top:1100.30px;width:1.15px;height:40.30px;background:#d0ced3"></div>
<div class="b" style="left:2207.12px;top:1100.30px;width:1.15px;height:40.30px;background:#d0ced3"></div>
<div class="b" style="left:2388.62px;top:1100.30px;width:1.15px;height:40.30px;background:#d0ced3"></div>
<span class="t" style="left:1319.30px;top:1150.88px;font-size:20.14px;color:#3c3c40;transform:scaleX(1.0186);">FIN305 - Avocado Oil - Cooking Spray</span>
<span class="t" style="left:1830.73px;top:1150.88px;font-size:20.14px;color:#3c3c40;transform:scaleX(1.0370);">-252.30</span>
<span class="t" style="left:1933.33px;top:1150.88px;font-size:20.14px;color:#3c3c40;transform:scaleX(1.0370);">-252.30</span>
<span class="t" style="left:2138.78px;top:1150.88px;font-size:20.14px;color:#3c3c40;transform:scaleX(1.0370);">-95.70</span>
<div class="b" style="left:1288.83px;top:1178.12px;width:1100.95px;height:1.15px;background:#d0ced3"></div>
<div class="b" style="left:1288.83px;top:1139.40px;width:1.15px;height:39.90px;background:#d0ced3"></div>
<div class="b" style="left:1699.62px;top:1139.40px;width:1.15px;height:39.90px;background:#d0ced3"></div>
<div class="b" style="left:1719.92px;top:1139.40px;width:1.15px;height:39.90px;background:#d0ced3"></div>
<div class="b" style="left:1748.22px;top:1139.40px;width:1.15px;height:39.90px;background:#d0ced3"></div>
<div class="b" style="left:1910.42px;top:1139.40px;width:1.15px;height:39.90px;background:#d0ced3"></div>
<div class="b" style="left:2013.12px;top:1139.40px;width:1.15px;height:39.90px;background:#d0ced3"></div>
<div class="b" style="left:2207.12px;top:1139.40px;width:1.15px;height:39.90px;background:#d0ced3"></div>
<div class="b" style="left:2388.62px;top:1139.40px;width:1.15px;height:39.90px;background:#d0ced3"></div>
<span class="t" style="left:1319.30px;top:1189.58px;font-size:20.14px;color:#3c3c40;transform:scaleX(1.0152);">FIN311 - Priv Lbl 1 Cinn Raisin Bread</span>
<span class="t" style="left:1860.92px;top:1189.58px;font-size:20.14px;color:#3c3c40;transform:scaleX(1.0370);">0.00</span>
<span class="t" style="left:1963.52px;top:1189.58px;font-size:20.14px;color:#3c3c40;transform:scaleX(1.0370);">0.00</span>
<span class="t" style="left:2157.32px;top:1189.58px;font-size:20.14px;color:#3c3c40;transform:scaleX(1.0370);">3.21</span>
<div class="b" style="left:1288.83px;top:1217.12px;width:1100.95px;height:1.15px;background:#d0ced3"></div>
<div class="b" style="left:1288.83px;top:1178.10px;width:1.15px;height:40.20px;background:#d0ced3"></div>
<div class="b" style="left:1699.62px;top:1178.10px;width:1.15px;height:40.20px;background:#d0ced3"></div>
<div class="b" style="left:1719.92px;top:1178.10px;width:1.15px;height:40.20px;background:#d0ced3"></div>
<div class="b" style="left:1748.22px;top:1178.10px;width:1.15px;height:40.20px;background:#d0ced3"></div>
<div class="b" style="left:1910.42px;top:1178.10px;width:1.15px;height:40.20px;background:#d0ced3"></div>
<div class="b" style="left:2013.12px;top:1178.10px;width:1.15px;height:40.20px;background:#d0ced3"></div>
<div class="b" style="left:2207.12px;top:1178.10px;width:1.15px;height:40.20px;background:#d0ced3"></div>
<div class="b" style="left:2388.62px;top:1178.10px;width:1.15px;height:40.20px;background:#d0ced3"></div>
<span class="t" style="left:1319.30px;top:1228.58px;font-size:20.14px;color:#3c3c40;transform:scaleX(1.0107);">FIN312 - Priv Lbl 2 Cinn Raisin Bread</span>
<span class="t" style="left:1860.92px;top:1228.58px;font-size:20.14px;color:#3c3c40;transform:scaleX(1.0370);">0.00</span>
<span class="t" style="left:1963.52px;top:1228.58px;font-size:20.14px;color:#3c3c40;transform:scaleX(1.0370);">0.00</span>
<span class="t" style="left:2157.32px;top:1228.58px;font-size:20.14px;color:#3c3c40;transform:scaleX(1.0370);">2.67</span>
<div class="b" style="left:1288.83px;top:1255.62px;width:1100.95px;height:1.15px;background:#d0ced3"></div>
<div class="b" style="left:1288.83px;top:1217.10px;width:1.15px;height:39.70px;background:#d0ced3"></div>
<div class="b" style="left:1699.62px;top:1217.10px;width:1.15px;height:39.70px;background:#d0ced3"></div>
<div class="b" style="left:1719.92px;top:1217.10px;width:1.15px;height:39.70px;background:#d0ced3"></div>
<div class="b" style="left:1748.22px;top:1217.10px;width:1.15px;height:39.70px;background:#d0ced3"></div>
<div class="b" style="left:1910.42px;top:1217.10px;width:1.15px;height:39.70px;background:#d0ced3"></div>
<div class="b" style="left:2013.12px;top:1217.10px;width:1.15px;height:39.70px;background:#d0ced3"></div>
<div class="b" style="left:2207.12px;top:1217.10px;width:1.15px;height:39.70px;background:#d0ced3"></div>
<div class="b" style="left:2388.62px;top:1217.10px;width:1.15px;height:39.70px;background:#d0ced3"></div>
<span class="t" style="left:1319.30px;top:1267.08px;font-size:20.14px;color:#3c3c40;transform:scaleX(1.0107);">FIN313 - Priv Lbl 3 Cinn Raisin Bread</span>
<span class="t" style="left:1860.92px;top:1267.08px;font-size:20.14px;color:#3c3c40;transform:scaleX(1.0370);">0.00</span>
<span class="t" style="left:1963.52px;top:1267.08px;font-size:20.14px;color:#3c3c40;transform:scaleX(1.0370);">0.00</span>
<span class="t" style="left:2157.32px;top:1267.08px;font-size:20.14px;color:#3c3c40;transform:scaleX(1.0370);">2.46</span>
<div class="b" style="left:1288.83px;top:1294.72px;width:1100.95px;height:1.15px;background:#d0ced3"></div>
<div class="b" style="left:1288.83px;top:1255.60px;width:1.15px;height:40.30px;background:#d0ced3"></div>
<div class="b" style="left:1699.62px;top:1255.60px;width:1.15px;height:40.30px;background:#d0ced3"></div>
<div class="b" style="left:1719.92px;top:1255.60px;width:1.15px;height:40.30px;background:#d0ced3"></div>
<div class="b" style="left:1748.22px;top:1255.60px;width:1.15px;height:40.30px;background:#d0ced3"></div>
<div class="b" style="left:1910.42px;top:1255.60px;width:1.15px;height:40.30px;background:#d0ced3"></div>
<div class="b" style="left:2013.12px;top:1255.60px;width:1.15px;height:40.30px;background:#d0ced3"></div>
<div class="b" style="left:2207.12px;top:1255.60px;width:1.15px;height:40.30px;background:#d0ced3"></div>
<div class="b" style="left:2388.62px;top:1255.60px;width:1.15px;height:40.30px;background:#d0ced3"></div>
<span class="t" style="left:1319.30px;top:1306.18px;font-size:20.14px;color:#3c3c40;transform:scaleX(1.0107);">FIN314 - Priv Lbl 4 Cinn Raisin Bread</span>
<span class="t" style="left:1842.38px;top:1306.18px;font-size:20.14px;color:#3c3c40;transform:scaleX(1.0370);">-97.80</span>
<span class="t" style="left:1944.98px;top:1306.18px;font-size:20.14px;color:#3c3c40;transform:scaleX(1.0370);">-97.80</span>
<span class="t" style="left:2157.32px;top:1306.18px;font-size:20.14px;color:#3c3c40;transform:scaleX(1.0370);">9.02</span>
<div class="b" style="left:1288.83px;top:1333.33px;width:1100.95px;height:1.15px;background:#d0ced3"></div>
<div class="b" style="left:1288.83px;top:1294.70px;width:1.15px;height:39.80px;background:#d0ced3"></div>
<div class="b" style="left:1699.62px;top:1294.70px;width:1.15px;height:39.80px;background:#d0ced3"></div>
<div class="b" style="left:1719.92px;top:1294.70px;width:1.15px;height:39.80px;background:#d0ced3"></div>
<div class="b" style="left:1748.22px;top:1294.70px;width:1.15px;height:39.80px;background:#d0ced3"></div>
<div class="b" style="left:1910.42px;top:1294.70px;width:1.15px;height:39.80px;background:#d0ced3"></div>
<div class="b" style="left:2013.12px;top:1294.70px;width:1.15px;height:39.80px;background:#d0ced3"></div>
<div class="b" style="left:2207.12px;top:1294.70px;width:1.15px;height:39.80px;background:#d0ced3"></div>
<div class="b" style="left:2388.62px;top:1294.70px;width:1.15px;height:39.80px;background:#d0ced3"></div>
<span class="t" style="left:1319.30px;top:1344.38px;font-size:20.14px;color:#414145;font-weight:bold;transform:scaleX(1.0936);">Total</span>
<span class="t" style="left:1831.45px;top:1344.38px;font-size:20.14px;color:#414145;font-weight:bold;transform:scaleX(1.1390);">157.27</span>
<span class="t" style="left:1934.05px;top:1344.38px;font-size:20.14px;color:#414145;font-weight:bold;transform:scaleX(1.1390);">157.27</span>
<span class="t" style="left:2127.85px;top:1344.38px;font-size:20.14px;color:#414145;font-weight:bold;transform:scaleX(1.1390);">160.68</span>
<span class="t" style="left:2309.65px;top:1344.38px;font-size:20.14px;color:#414145;font-weight:bold;transform:scaleX(1.1390);">317.95</span>
<div class="b" style="left:1288.83px;top:1372.42px;width:1100.95px;height:1.15px;background:#d0ced3"></div>
<div class="b" style="left:1288.83px;top:1333.30px;width:1.15px;height:40.30px;background:#d0ced3"></div>
<div class="b" style="left:1699.62px;top:1333.30px;width:1.15px;height:40.30px;background:#d0ced3"></div>
<div class="b" style="left:1719.92px;top:1333.30px;width:1.15px;height:40.30px;background:#d0ced3"></div>
<div class="b" style="left:1748.22px;top:1333.30px;width:1.15px;height:40.30px;background:#d0ced3"></div>
<div class="b" style="left:1910.42px;top:1333.30px;width:1.15px;height:40.30px;background:#d0ced3"></div>
<div class="b" style="left:2013.12px;top:1333.30px;width:1.15px;height:40.30px;background:#d0ced3"></div>
<div class="b" style="left:2207.12px;top:1333.30px;width:1.15px;height:40.30px;background:#d0ced3"></div>
<div class="b" style="left:2388.62px;top:1333.30px;width:1.15px;height:40.30px;background:#d0ced3"></div>
</div>
<div class="b" style="left:0.00px;top:1471.20px;width:2528.00px;height:3.00px;background:#00152e"></div>
<div class="b" style="left:0.00px;top:1471.20px;width:8.00px;height:3.00px;background:#00458c"></div>
</body></html>
